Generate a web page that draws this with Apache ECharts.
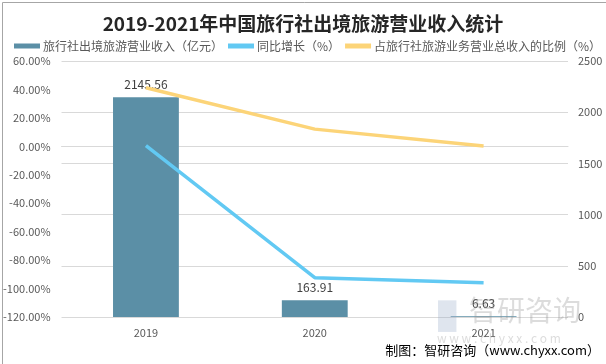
<!DOCTYPE html>
<html>
<head>
<meta charset="utf-8">
<script src="https://cdn.jsdelivr.net/npm/echarts@6/dist/echarts.min.js"></script>
<style>
html,body{margin:0;padding:0;background:#fff;}
#c{width:606px;height:364px;}
</style>
</head>
<body>
<div id="c"></div>
<script>
const categories = ['2019', '2020', '2021'];
const revenue = [2145.56, 163.91, 6.63];
const yoyGrowth = [0.5, -92.36, -95.96];
const shareRatio = [41.2, 12.1, 0.3];
const leftTicks = { min: -120, max: 60, interval: 20 };
const rightTicks = { min: 0, max: 2500, interval: 500 };

const FONT = '"Noto Sans CJK SC", "Noto Sans", sans-serif';
const chart = echarts.init(document.getElementById('c'), null, { renderer: 'canvas' });
chart.setOption({
  animation: false,
  backgroundColor: '#fff',
  textStyle: { fontFamily: FONT },
  title: {
    text: '2019-2021年中国旅行社出境旅游营业收入统计',
    left: 'center',
    top: 9,
    textStyle: { fontSize: 19, fontWeight: 'bold', color: '#262626', fontFamily: FONT }
  },
  legend: {
    top: 40,
    left: 14,
    width: 600,
    padding: 0,
    icon: 'rect',
    itemWidth: 26,
    itemHeight: 5,
    itemGap: 5,
    textStyle: { fontSize: 12, color: '#595959', fontFamily: FONT, padding: [0, 0, 0, -2] },
    data: ['旅行社出境旅游营业收入（亿元）', '同比增长（%）', '占旅行社旅游业务营业总收入的比例（%）']
  },
  grid: { left: 59, right: 38, top: 61, bottom: 47, containLabel: false },
  xAxis: {
    type: 'category',
    data: categories,
    axisLine: { show: true, lineStyle: { color: '#d9d9d9' } },
    axisTick: { show: false },
    axisLabel: { color: '#595959', fontSize: 11, margin: 10 }
  },
  yAxis: [
    {
      type: 'value',
      min: leftTicks.min, max: leftTicks.max, interval: leftTicks.interval,
      axisLine: { show: false }, axisTick: { show: false },
      splitLine: { show: false },
      axisLabel: { color: '#595959', fontSize: 11, margin: 11, formatter: v => v.toFixed(2) + '%' }
    },
    {
      type: 'value',
      min: rightTicks.min, max: rightTicks.max, interval: rightTicks.interval,
      axisLine: { show: false }, axisTick: { show: false },
      splitLine: { show: true, lineStyle: { color: '#d9d9d9', width: 1 } },
      axisLabel: { color: '#595959', fontSize: 11, margin: 10, formatter: v => String(v) }
    }
  ],
  series: [
    {
      name: '旅行社出境旅游营业收入（亿元）',
      type: 'bar',
      yAxisIndex: 1,
      data: revenue,
      barWidth: '39%',
      itemStyle: { color: '#5b8fa6' },
      label: { show: true, position: 'top', distance: 7, color: '#404040', fontSize: 12 },
      z: 2
    },
    {
      name: '同比增长（%）',
      type: 'line',
      yAxisIndex: 0,
      data: yoyGrowth,
      symbol: 'none',
      lineStyle: { color: '#62c9f3', width: 3.5 },
      itemStyle: { color: '#62c9f3' },
      z: 3
    },
    {
      name: '占旅行社旅游业务营业总收入的比例（%）',
      type: 'line',
      yAxisIndex: 0,
      data: shareRatio,
      symbol: 'none',
      lineStyle: { color: '#fcd478', width: 3.5 },
      itemStyle: { color: '#fcd478' },
      z: 3
    }
  ],
  graphic: [
    { type: 'rect', left: 0, top: 0, shape: { width: 605, height: 363 }, style: { fill: 'none', stroke: '#a6a6a6', lineWidth: 1 }, silent: true, z: 100 },
    { type: 'text', left: 438, top: 304, style: { text: '█', fontSize: 26, fill: 'rgba(150,170,200,0.3)' }, silent: true, z: 50 },
    { type: 'text', left: 469, top: 296, style: { text: '智研咨询', fontSize: 28, fill: 'rgba(140,140,140,0.3)', fontFamily: FONT }, silent: true, z: 50 },
    { type: 'text', left: 437, top: 332, style: { text: 'w w w . c h y x x . c o m', fontSize: 12, fill: 'rgba(140,140,140,0.3)', fontFamily: FONT }, silent: true, z: 50 },
    { type: 'text', right: 6, top: 344, style: { text: '制图：智研咨询（www.chyxx.com）', fontSize: 13, fill: '#000', fontFamily: FONT }, silent: true, z: 60 }
  ]
});
</script>
</body>
</html>
